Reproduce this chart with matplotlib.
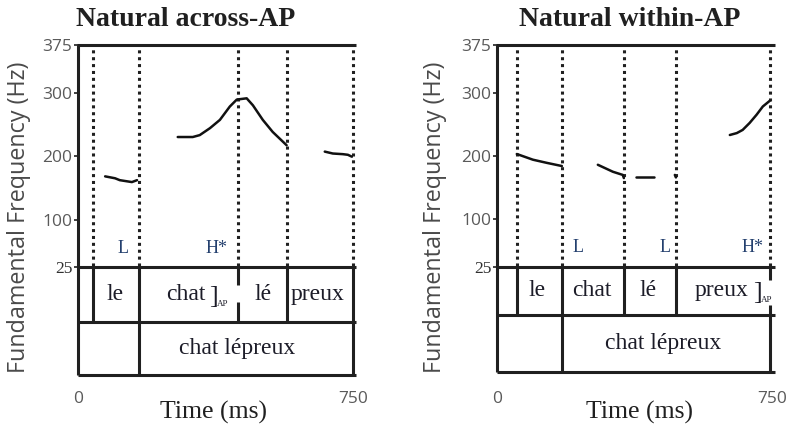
import matplotlib
matplotlib.use("Agg")
import matplotlib.pyplot as plt

# ---------------- data ----------------
yticks = [375, 300, 200, 100, 25]
xtick_vals = [0, 750]
titles = ["Natural across-AP", "Natural within-AP"]

# syllable boundaries (ms), dotted lines from 25 Hz up
left_bounds = [41, 166, 436, 570, 750]
right_bounds = [54, 177, 346, 488, 744]
# word-tier boundary (ms)
left_word_bound = 166
right_word_bound = 177
# AP boundary index (line with gap)
left_ap_idx = 2
right_ap_idx = 4

left_syll = ["le", "chat", "lé", "preux"]
left_syll_x = [101, 294, 504, 654]
right_syll = ["le", "chat", "lé", "preux"]
right_syll_x = [109, 259, 411, 613]
# AP bracket position (ms)
left_bracket_x = 369
right_bracket_x = 711
word_label = "chat lépreux"
left_word_x = 433
right_word_x = 452

left_tones = ["L", "H*"]
left_tones_x = [123, 379]
right_tones = ["L", "L", "H*"]
right_tones_x = [221, 458, 698]

# F0 contours (ms, Hz)
left_f0 = [
    ([74, 101, 114, 147, 161], [168, 165, 162, 159, 162]),
    ([272, 313, 332, 360, 387, 414, 433, 460, 477, 504, 531, 569],
     [230, 230, 233, 244, 257, 278, 289, 291, 280, 257, 238, 217]),
    ([673, 695, 722, 736, 747], [207, 204, 203, 202, 199]),
]
right_f0 = [
    ([54, 98, 136, 177], [203, 194, 189, 184]),
    ([275, 316, 343, 346], [186, 175, 170, 165]),
    ([380, 429], [167, 167]),
    ([485, 488], [170, 166]),
    ([635, 654, 670, 689, 708, 725, 744], [233, 236, 241, 252, 265, 278, 287]),
]

# ---------------- figure ----------------
W, H = 792, 430
fig = plt.figure(figsize=(W / 100, H / 100), dpi=100)
fig.patch.set_facecolor("white")

SERIF = "Liberation Serif"
SANS = "Open Sans"
LC = "#202020"
TC = "#1c1c28"
LW = 2.2


def px(x0, y0, x1, y1):
    return [x0 / W, 1 - y1 / H, (x1 - x0) / W, (y1 - y0) / H]


panels = [
    dict(rect=px(78, 45, 353, 375), ylim=(-145, 375), mid=-62, bounds=left_bounds,
         wb=left_word_bound, ap=left_ap_idx, syll=left_syll, sx=left_syll_x,
         bx=left_bracket_x,
         wx=left_word_x, tones=left_tones, tx=left_tones_x, f0=left_f0,
         gap=(-3, -30), right_edge=750, xpad=11.5, title=titles[0], tcx=186,
         tlx=213, ylx=19),
    dict(rect=px(497, 45, 772, 372), ylim=(-141, 375), mid=-51, bounds=right_bounds,
         wb=right_word_bound, ap=right_ap_idx, syll=right_syll, sx=right_syll_x,
         bx=right_bracket_x,
         wx=right_word_x, tones=right_tones, tx=right_tones_x, f0=right_f0,
         gap=(4, -35), right_edge=744, xpad=13.5, title=titles[1], tcx=630,
         tlx=640, ylx=435),
]

for p in panels:
    ax = fig.add_axes(p["rect"])
    ymin = p["ylim"][0]
    ax.set_xlim(0, 750)
    ax.set_ylim(*p["ylim"])
    for s in ax.spines.values():
        s.set_visible(False)
    ax.patch.set_alpha(0)

    # ticks
    ax.set_yticks(yticks)
    ax.set_yticklabels([str(v) for v in yticks])
    ax.tick_params(axis="y", length=3, width=1.2, color=LC, pad=1,
                   labelsize=12.5, labelcolor="#5a5a5a")
    for lab in ax.get_yticklabels():
        lab.set_family(SANS)
        if lab.get_text() == "25":
            lab.set_family(SERIF)
            lab.set_color("#303030")
    ax.set_xticks(xtick_vals)
    ax.set_xticklabels([str(v) for v in xtick_vals])
    ax.tick_params(axis="x", length=0, pad=p["xpad"], labelsize=12.5,
                   labelcolor="#5a5a5a")
    for lab in ax.get_xticklabels():
        lab.set_family(SANS)

    fig.text(p["ylx"] / W, 1 - 217 / H, "Fundamental Frequency (Hz)",
             family=SANS, fontsize=16.8, color="#4a4a4a", rotation=90,
             ha="center", va="center")

    kw = dict(color=LC, lw=LW, clip_on=False, solid_capstyle="butt")
    xr = 758
    # frame
    ax.plot([0, 0], [ymin, 375], **kw)
    ax.plot([-2, xr], [375, 375], **kw)
    for yy in [25, p["mid"], ymin]:
        ax.plot([0, xr], [yy, yy], **kw)
    # dotted syllable lines
    for b in p["bounds"]:
        ax.plot([b, b], [27, 371], color=LC, lw=LW, linestyle=(0, (1.0, 1.25)),
                dash_capstyle="butt", clip_on=False)
    # tier 1 verticals
    for i, b in enumerate(p["bounds"]):
        if i == p["ap"]:
            ax.plot([b, b], [25, p["gap"][0]], **kw)
            ax.plot([b, b], [p["gap"][1], p["mid"]], **kw)
        else:
            ax.plot([b, b], [25, p["mid"]], **kw)
    if p["right_edge"] not in p["bounds"]:
        ax.plot([p["right_edge"]] * 2, [25, p["mid"]], **kw)
    # tier 2 verticals
    for b in [p["wb"], p["right_edge"]]:
        ax.plot([b, b], [p["mid"], ymin], **kw)

    # tier text
    t1y = (25 + p["mid"]) / 2
    t2y = (p["mid"] + ymin) / 2
    for s, x in zip(p["syll"], p["sx"]):
        ax.text(x, t1y, s, family=SERIF, fontsize=17, color=TC,
                ha="center", va="center")
    ax.text(p["bx"], t1y - 3, "]", family=SERIF, fontsize=19, color=TC,
            ha="center", va="center")
    ax.text(p["bx"] + 9, t1y - 14, "AP", family=SERIF, fontsize=6.5,
            color=TC, ha="left", va="center")
    ax.text(p["wx"], t2y, word_label, family=SERIF, fontsize=17,
            color=TC, ha="center", va="center")

    # tone labels
    for s, x in zip(p["tones"], p["tx"]):
        ax.text(x, 55, s, family=SERIF, fontsize=13, color="#24406e",
                ha="center", va="center")

    # F0 contours
    for xs, ys in p["f0"]:
        ax.plot(xs, ys, color="#111111", lw=1.8, solid_capstyle="round")

    fig.text(p["tcx"] / W, 1 - 19 / H, p["title"], family=SERIF,
             fontweight="bold", fontsize=20, color="#202020",
             ha="center", va="center")
    fig.text(p["tlx"] / W, 1 - 412 / H, "Time (ms)", family=SERIF,
             fontsize=18.5, color="#202020", ha="center", va="center")

fig.savefig("out.png", dpi=100, facecolor="white")
